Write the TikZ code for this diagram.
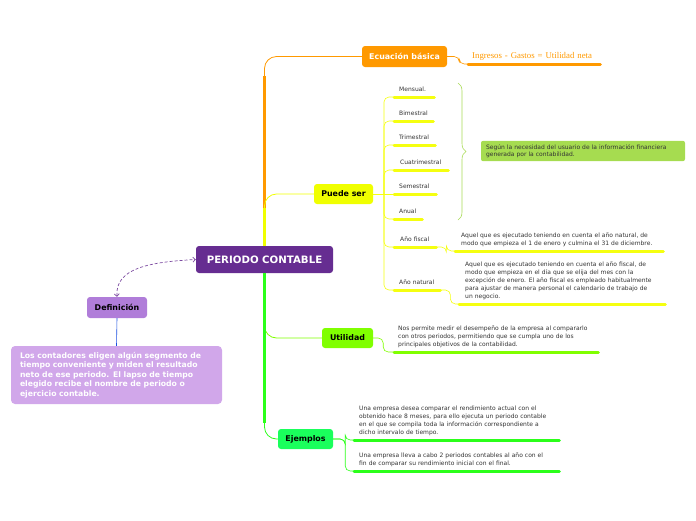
\documentclass[tikz,border=0pt]{standalone}
\usepackage{fontspec}
\setmainfont{DejaVu Sans}
\newfontfamily\serifnote{Liberation Serif}
\usetikzlibrary{arrows.meta,decorations.pathreplacing}

\definecolor{periodo}{HTML}{662D91}
\definecolor{ecuorange}{HTML}{FF9900}
\definecolor{puedeyel}{HTML}{F0FF00}
\definecolor{ulyellow}{HTML}{F5FF10}
\definecolor{utilgreen}{HTML}{80FF00}
\definecolor{ejemgreen}{HTML}{1AFF5C}
\definecolor{ejline}{HTML}{2BFF1A}
\definecolor{defpurple}{HTML}{B07DD9}
\definecolor{defbox}{HTML}{D1A7EA}
\definecolor{brgreen}{HTML}{A8DA55}
\definecolor{notegreen}{HTML}{A6DC50}
\definecolor{txtgray}{HTML}{333333}
\definecolor{defblue}{HTML}{1A4FE0}

\tikzset{
  topic/.style={rounded corners=3pt, font=\bfseries\fontsize{7.9}{9}\selectfont, inner sep=0pt},
  leaf/.style={anchor=south west, inner xsep=5pt, inner ysep=4pt, align=left,
    text=txtgray, font=\fontsize{6}{8}\selectfont},
  item/.style={leaf, text depth=1pt},
  ul/.style={line width=3pt, line cap=round},
  thinline/.style={line width=0.6pt, rounded corners=5pt},
  trunk/.style={line width=0.8pt, rounded corners=12pt},
}

\begin{document}
\begin{tikzpicture}[x=1pt,y=-1pt]
	\useasboundingbox (0,0) rectangle (696,520);
	
	% Define central topic
	\node[topic, fill=periodo, text=white, minimum width=137pt, minimum height=27pt,
	  font=\bfseries\fontsize{10.2}{12}\selectfont] (Periodo) at (264.5,259.5) {PERIODO CONTABLE};
	
	% Define main topics
	\node[topic, fill=ecuorange, text=white, minimum width=85pt, minimum height=21pt] (Ecuacion) at (404.5,56.5) {Ecuación básica};
	\node[topic, fill=puedeyel, minimum width=59pt, minimum height=20pt] (Puede) at (343.5,194) {Puede ser};
	\node[topic, fill=utilgreen, minimum width=51pt, minimum height=20pt] (Util) at (347.5,338) {Utilidad};
	\node[topic, fill=ejemgreen, minimum width=55pt, minimum height=20pt] (Ejem) at (305.5,439) {Ejemplos};
	\node[topic, fill=defpurple, minimum width=60pt, minimum height=21pt] (Definicion) at (117,307.5) {Definición};
	
	\draw[ecuorange, trunk] (Periodo.north) |- (Ecuacion.west);
	\draw[ecuorange, line width=2.6pt] (Periodo.north) -- ++(0,-170);
	\draw[puedeyel, trunk] (Periodo.north) |- (Puede.west);
	\draw[puedeyel, line width=2.6pt] (Periodo.north) -- ++(0,-38);
	\draw[utilgreen, trunk] (Periodo.south) |- (Util.west);
	\draw[utilgreen, line width=2.6pt] (Periodo.south) -- ++(0,50);
	\draw[ejline, trunk] (Periodo.south) |- (Ejem.west);
	\draw[ejline, line width=2.6pt] (Periodo.south) -- ++(0,150);
	
	% Define Ecuacion basica
	\node[item, inner xsep=4pt, text width=124pt, text=ecuorange, font=\serifnote\fontsize{8.8}{10}\selectfont] (EcuNota) at (468,64) {Ingresos - Gastos = Utilidad neta};
	\draw[ecuorange, ul] (EcuNota.south west) -- (EcuNota.south east);
	\draw[ecuorange, thinline] (Ecuacion.east) -- ++(12,0) |- (EcuNota.south west);
	
	% Define Puede ser
	\node[item, text width=30pt] (Mensual) at (394,97) {Mensual.};
	\node[item, text width=29pt] (Bimestral) at (394,121) {Bimestral};
	\node[item, text width=31pt] (Trimestral) at (394,145) {Trimestral};
	\node[item, text width=42pt, inner xsep=6pt] (Cuatrimestral) at (394,170) {Cuatrimestral};
	\node[item, text width=32pt] (Semestral) at (394,194) {Semestral};
	\node[item, text width=18pt] (Anual) at (394,219) {Anual};
	\node[item, text width=30pt, inner xsep=6pt] (Fiscal) at (394,247) {Año fiscal};
	\node[item, text width=36pt] (Natural) at (394,290) {Año natural};
	
	\coordinate (PuedeFork) at (384,194);
	\draw[ulyellow, thinline] (Puede.east) -- (PuedeFork);
	\draw[ulyellow, thinline] (PuedeFork) |- (Mensual.south west);
	\draw[ulyellow, thinline] (PuedeFork) |- (Bimestral.south west);
	\draw[ulyellow, thinline] (PuedeFork) |- (Trimestral.south west);
	\draw[ulyellow, thinline] (PuedeFork) |- (Cuatrimestral.south west);
	\draw[ulyellow, thinline] (PuedeFork) -- (Semestral.south west);
	\draw[ulyellow, thinline] (PuedeFork) |- (Anual.south west);
	\draw[ulyellow, thinline] (PuedeFork) |- (Fiscal.south west);
	\draw[ulyellow, thinline] (PuedeFork) |- (Natural.south west);
	
	\draw[ulyellow, ul] (Mensual.south west) -- (Mensual.south east);
	\draw[ulyellow, ul] (Bimestral.south west) -- (Bimestral.south east);
	\draw[ulyellow, ul] (Trimestral.south west) -- (Trimestral.south east);
	\draw[ulyellow, ul] (Cuatrimestral.south west) -- (Cuatrimestral.south east);
	\draw[ulyellow, ul] (Semestral.south west) -- (Semestral.south east);
	\draw[ulyellow, ul] (Anual.south west) -- (Anual.south east);
	\draw[ulyellow, ul] (Fiscal.south west) -- (Fiscal.south east);
	\draw[ulyellow, ul] (Natural.south west) -- (Natural.south east);
	
	% brace to the note
	\coordinate (BraceTop) at (458,83);
	\coordinate (BraceBot) at (458,220);
	\draw[brgreen, line width=0.6pt, decorate, decoration={brace, amplitude=8pt}] (BraceTop) -- (BraceBot);
	\node[fill=notegreen, rounded corners=2pt, minimum height=20pt, inner xsep=5pt,
	  align=left, text width=194pt, text=txtgray, font=\fontsize{6}{7.5}\selectfont] (Necesidad) at (583,151)
	  {Según la necesidad del usuario de la información financiera\\generada por la contabilidad.};
	
	% Define Ano fiscal, Ano natural
	\node[leaf, text width=196pt, inner xsep=6pt] (FiscalNota) at (455,251)
	  {Aquel que es ejecutado teniendo en cuenta el año natural, de\\modo que empieza el 1 de enero y culmina el 31 de diciembre.};
	\draw[ulyellow, ul] (FiscalNota.south west) -- (FiscalNota.south east);
	\draw[ulyellow, thinline] (Fiscal.south east) -- ++(10,0) |- (FiscalNota.south west);
	
	\node[leaf, text width=194pt, inner xsep=6pt] (NaturalNota) at (459,304)
	  {Aquel que es ejecutado teniendo en cuenta el año fiscal, de\\modo que empieza en el día que se elija del mes con la\\excepción de enero. El año fiscal es empleado habitualmente\\para ajustar de manera personal el calendario de trabajo de\\un negocio.};
	\draw[ulyellow, ul] (NaturalNota.south west) -- (NaturalNota.south east);
	\draw[ulyellow, thinline] (Natural.south east) -- ++(10,0) |- (NaturalNota.south west);
	
	% Define Utilidad
	\node[leaf, text width=196pt, inner xsep=4pt] (UtilNota) at (394,352)
	  {Nos permite medir el desempeño de la empresa al compararlo\\con otros periodos, permitiendo que se cumpla uno de los\\principales objetivos de la contabilidad.};
	\draw[utilgreen, ul] (UtilNota.south west) -- (UtilNota.south east);
	\draw[utilgreen, thinline] (Util.east) -- ++(10,0) |- (UtilNota.south west);
	
	% Define Ejemplos
	\node[leaf, text width=195pt] (EjemUno) at (354,440)
	  {Una empresa desea comparar el rendimiento actual con el\\obtenido hace 8 meses, para ello ejecuta un periodo contable\\en el que se compila toda la información correspondiente a\\dicho intervalo de tiempo.};
	\node[leaf, text width=195pt] (EjemDos) at (354,471)
	  {Una empresa lleva a cabo 2 periodos contables al año con el\\fin de comparar su rendimiento inicial con el final.};
	\draw[ejline, ul] (EjemUno.south west) -- (EjemUno.south east);
	\draw[ejline, ul] (EjemDos.south west) -- (EjemDos.south east);
	\draw[ejline, thinline] (Ejem.east) -- ++(12,0) |- (EjemUno.south west);
	\draw[ejline, thinline] (Ejem.east) -- ++(12,0) |- (EjemDos.south west);
	
	% Define Definicion
	\node[fill=defbox, rounded corners=4pt, minimum height=58pt, inner xsep=9pt,
	  align=left, text width=193pt, text=white, font=\bfseries\fontsize{7.7}{9.4}\selectfont] (DefTexto) at (116.5,375)
	  {Los contadores eligen algún segmento de\\tiempo conveniente y miden el resultado\\neto de ese periodo. El lapso de tiempo\\elegido recibe el nombre de periodo o\\ejercicio contable.};
	\draw[defblue, line width=0.6pt] (Definicion.south) -- (DefTexto.north);
	\draw[periodo!85, dashed, dash pattern=on 3pt off 2pt, line width=0.7pt,
	  {Straight Barb[length=2.5pt,width=5pt]}-{Straight Barb[length=2.5pt,width=5pt]}]
	  (Definicion.north) .. controls (115,268) and (150,262) .. (Periodo.west);
\end{tikzpicture}
\end{document}
